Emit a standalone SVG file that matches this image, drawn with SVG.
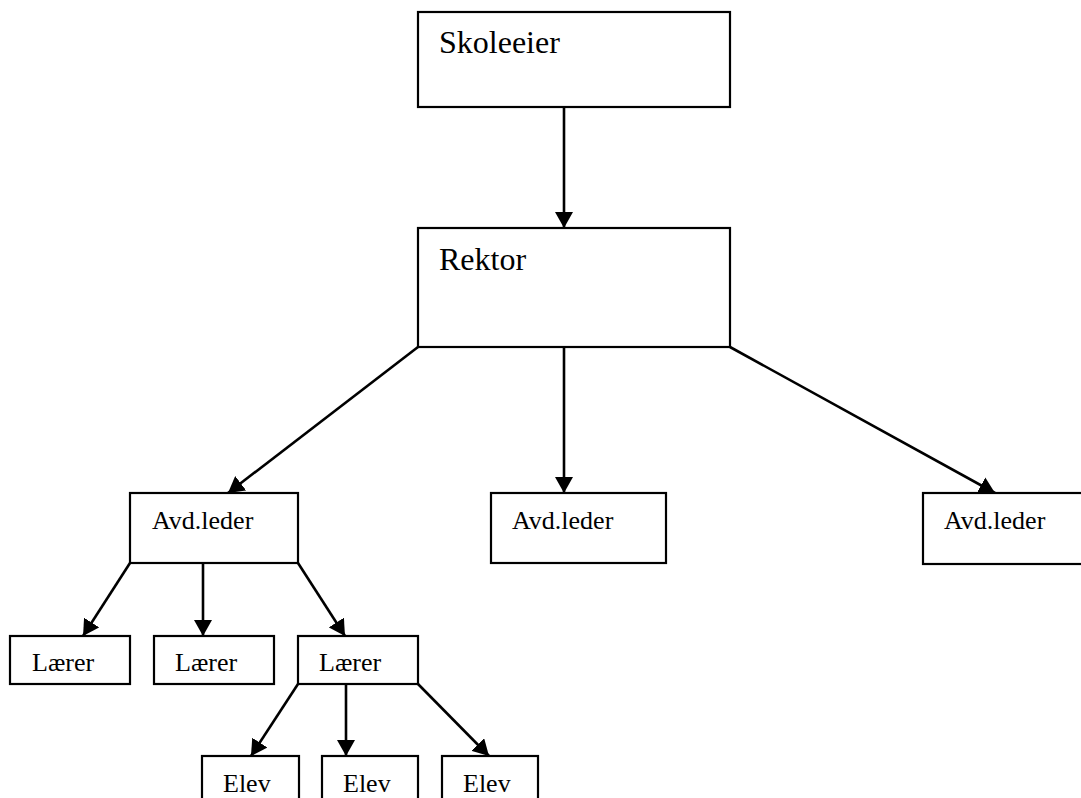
<svg xmlns="http://www.w3.org/2000/svg" width="1081" height="798" viewBox="0 0 1081 798">
<style>
.box{fill:#fff;stroke:#000;stroke-width:2.2}
.big{font-family:"Liberation Serif","Times New Roman",serif;font-size:32px;fill:#000}
.sm{font-family:"Liberation Serif","Times New Roman",serif;font-size:26px;fill:#000}
.con{stroke:#000;stroke-width:2.6;fill:none;marker-end:url(#ah)}
</style>
<defs>
<marker id="ah" markerUnits="userSpaceOnUse" markerWidth="17" markerHeight="18" refX="16" refY="9" orient="auto">
<path d="M0,0 L16,9 L0,18 z" fill="#000"/>
</marker>
</defs>
<rect width="1081" height="798" fill="#fff"/>
<g id="connectors">
<line class="con" x1="564" y1="107" x2="564" y2="228"/>
<line class="con" x1="418" y1="347" x2="228" y2="493"/>
<line class="con" x1="564" y1="347" x2="564" y2="493"/>
<line class="con" x1="730" y1="347" x2="995" y2="493"/>
<line class="con" x1="130" y1="563" x2="83" y2="636"/>
<line class="con" x1="203" y1="563" x2="203" y2="636"/>
<line class="con" x1="298" y1="563" x2="345" y2="636"/>
<line class="con" x1="298" y1="684" x2="251" y2="756"/>
<line class="con" x1="346" y1="684" x2="346" y2="756"/>
<line class="con" x1="418" y1="684" x2="489" y2="756"/>
</g>
<g id="skoleeier"><rect class="box" x="418" y="12" width="312" height="95"/><text class="big" x="439" y="53">Skoleeier</text></g>
<g id="rektor"><rect class="box" x="418" y="228" width="312" height="119"/><text class="big" x="439" y="270">Rektor</text></g>
<g id="avd1"><rect class="box" x="130" y="493" width="168" height="70"/><text class="sm" x="152" y="529">Avd.leder</text></g>
<g id="avd2"><rect class="box" x="491" y="493" width="175" height="70"/><text class="sm" x="512" y="529">Avd.leder</text></g>
<g id="avd3"><rect class="box" x="923" y="493" width="170" height="71"/><text class="sm" x="944" y="529">Avd.leder</text></g>
<g id="laerer1"><rect class="box" x="10" y="636" width="120" height="48"/><text class="sm" x="32" y="671">Lærer</text></g>
<g id="laerer2"><rect class="box" x="154" y="636" width="120" height="48"/><text class="sm" x="175" y="671">Lærer</text></g>
<g id="laerer3"><rect class="box" x="298" y="636" width="120" height="48"/><text class="sm" x="319" y="671">Lærer</text></g>
<g id="elev1"><rect class="box" x="202" y="756" width="97" height="60"/><text class="sm" x="223" y="792">Elev</text></g>
<g id="elev2"><rect class="box" x="322" y="756" width="96" height="60"/><text class="sm" x="343" y="792">Elev</text></g>
<g id="elev3"><rect class="box" x="442" y="756" width="96" height="60"/><text class="sm" x="463" y="792">Elev</text></g>
</svg>
